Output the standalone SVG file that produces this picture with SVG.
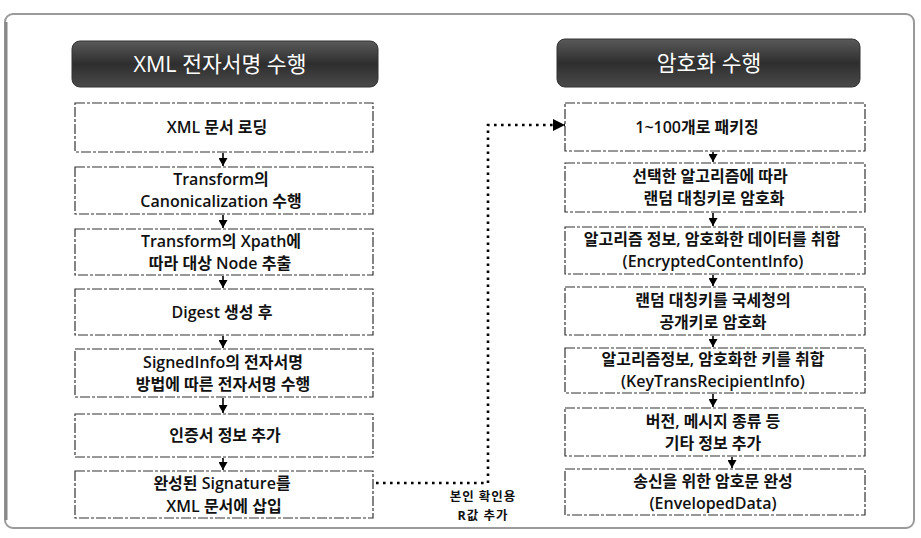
<svg xmlns="http://www.w3.org/2000/svg" width="921" height="538" viewBox="0 0 921 538">
<defs>
<linearGradient id="hdr" x1="0" y1="0" x2="0" y2="1">
<stop offset="0" stop-color="#5a5a5a"/>
<stop offset="0.5" stop-color="#2e2e2e"/>
<stop offset="1" stop-color="#4a4a4a"/>
</linearGradient>
<marker id="ah" markerUnits="userSpaceOnUse" markerWidth="8" markerHeight="9" refX="8" refY="4.5" orient="auto" viewBox="0 0 8 9">
<path d="M0,0 L8,4.5 L0,9 Z" fill="#000"/>
</marker>
<marker id="big" markerUnits="userSpaceOnUse" markerWidth="12" markerHeight="12" refX="12" refY="6" orient="auto" viewBox="0 0 12 12">
<path d="M0,0 L12,6 L0,12 Z" fill="#000"/>
</marker>
</defs>
<style>
.frame{fill:none;stroke:#9a9a9a;stroke-width:2}
.hdr{fill:url(#hdr);stroke:#333;stroke-width:1}
.htxt{font-family:"Open Sans","Noto Sans CJK KR",sans-serif;font-size:21.5px;fill:#fff;text-anchor:middle}
.box{fill:#fff;stroke:#333;stroke-width:1.2;stroke-dasharray:10 2 3 2}
.t{font-family:"Open Sans","Noto Sans CJK KR",sans-serif;font-size:16px;font-weight:600;fill:#111;text-anchor:middle}
.lbl{font-family:"Open Sans","Noto Sans CJK KR",sans-serif;font-size:12.5px;font-weight:700;fill:#111;text-anchor:middle;letter-spacing:1px}
.arr{stroke:#000;stroke-width:1.6;fill:none;marker-end:url(#ah)}
.dot{stroke:#000;stroke-width:2.6;fill:none;stroke-dasharray:2.6 4.4;marker-end:url(#big)}
</style>
<rect width="921" height="538" fill="#fff"/>
<rect class="frame" x="5" y="14" width="909" height="514" rx="8"/>
<line x1="6" y1="22" x2="6" y2="520" stroke="#888" stroke-width="3"/>

<g id="hdr-left">
<rect class="hdr" x="72" y="41" width="306" height="46" rx="8"/>
<text class="htxt" x="220" y="72">XML 전자서명 수행</text>
</g>
<g id="hdr-right">
<rect class="hdr" x="557" y="39" width="303" height="48" rx="8"/>
<text class="htxt" x="709" y="71">암호화 수행</text>
</g>

<g id="L1"><rect class="box" x="75" y="103" width="298" height="49"/><text class="t" x="217" y="133">XML 문서 로딩</text></g>
<g id="L2"><rect class="box" x="75" y="167" width="298" height="47"/><text class="t" x="221" y="185">Transform의</text><text class="t" x="221" y="207">Canonicalization 수행</text></g>
<g id="L3"><rect class="box" x="75" y="229" width="298" height="46"/><text class="t" x="221" y="246.5">Transform의 Xpath에</text><text class="t" x="220" y="268.5">따라 대상 Node 추출</text></g>
<g id="L4"><rect class="box" x="75" y="289" width="298" height="46"/><text class="t" x="222" y="317.5">Digest 생성 후</text></g>
<g id="L5"><rect class="box" x="75" y="349" width="298" height="48"/><text class="t" x="223" y="367.5">SignedInfo의 전자서명</text><text class="t" x="223" y="389.5">방법에 따른 전자서명 수행</text></g>
<g id="L6"><rect class="box" x="75" y="414" width="298" height="43"/><text class="t" x="225" y="441">인증서 정보 추가</text></g>
<g id="L7"><rect class="box" x="75" y="471" width="298" height="47"/><text class="t" x="222" y="488.5">완성된 Signature를</text><text class="t" x="224" y="511.5">XML 문서에 삽입</text></g>

<g id="R1"><rect class="box" x="565" y="103" width="300" height="48"/><text class="t" x="697" y="132.5">1~100개로 패키징</text></g>
<g id="R2"><rect class="box" x="565" y="163" width="300" height="49"/><text class="t" x="710" y="182">선택한 알고리즘에 따라</text><text class="t" x="714" y="204">랜덤 대칭키로 암호화</text></g>
<g id="R3"><rect class="box" x="565" y="227" width="300" height="47"/><text class="t" x="712" y="245">알고리즘 정보, 암호화한 데이터를 취합</text><text class="t" x="713" y="267">(EncryptedContentInfo)</text></g>
<g id="R4"><rect class="box" x="565" y="287" width="300" height="48"/><text class="t" x="713" y="305.5">랜덤 대칭키를 국세청의</text><text class="t" x="713" y="327.5">공개키로 암호화</text></g>
<g id="R5"><rect class="box" x="565" y="348" width="300" height="45"/><text class="t" x="713" y="365">알고리즘정보, 암호화한 키를 취합</text><text class="t" x="713" y="387">(KeyTransRecipientInfo)</text></g>
<g id="R6"><rect class="box" x="565" y="408" width="300" height="48"/><text class="t" x="713" y="426.5">버전, 메시지 종류 등</text><text class="t" x="713" y="448.5">기타 정보 추가</text></g>
<g id="R7"><rect class="box" x="565" y="469" width="300" height="46"/><text class="t" x="713" y="486.5">송신을 위한 암호문 완성</text><text class="t" x="713" y="508.5">(EnvelopedData)</text></g>

<g id="connectors">
<line class="arr" x1="223" y1="153" x2="223" y2="166"/>
<line class="arr" x1="223" y1="215" x2="223" y2="228"/>
<line class="arr" x1="223" y1="276" x2="223" y2="288"/>
<line class="arr" x1="223" y1="336" x2="223" y2="348"/>
<line class="arr" x1="223" y1="398" x2="223" y2="413"/>
<line class="arr" x1="223" y1="458" x2="223" y2="470"/>
<line class="arr" x1="713" y1="152" x2="713" y2="162"/>
<line class="arr" x1="713" y1="213" x2="713" y2="226"/>
<line class="arr" x1="713" y1="275" x2="713" y2="286"/>
<line class="arr" x1="713" y1="336" x2="713" y2="347"/>
<line class="arr" x1="713" y1="394" x2="713" y2="407"/>
<line class="arr" x1="732" y1="457" x2="732" y2="468"/>
<path class="dot" d="M376,483 H488 V125 H565"/>
<text class="lbl" x="483" y="501">본인 확인용</text>
<text class="lbl" x="483" y="520">R값 추가</text>
</g>
</svg>
